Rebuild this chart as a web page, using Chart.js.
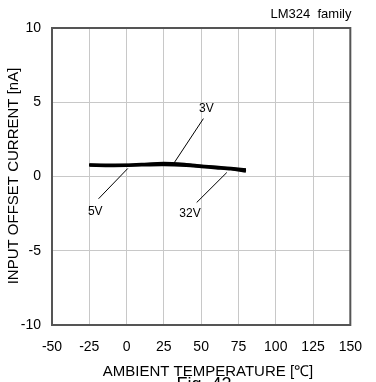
<!DOCTYPE html>
<html><head><meta charset="utf-8">
<script src="https://cdn.jsdelivr.net/npm/chart.js@4/dist/chart.umd.min.js"></script>
<style>html,body{margin:0;padding:0;background:#fff}canvas{display:block}</style>
</head><body>
<canvas id="c" width="376" height="382"></canvas>
<script>
const temps = [-25, -10, 0, 10, 25, 40, 50, 60, 70, 80];
const i3V  = [0.80, 0.78, 0.78, 0.83, 0.90, 0.82, 0.72, 0.64, 0.56, 0.46];
const i5V  = [0.78, 0.75, 0.76, 0.80, 0.84, 0.78, 0.69, 0.61, 0.53, 0.42];
const i32V = [0.75, 0.72, 0.73, 0.76, 0.78, 0.73, 0.65, 0.57, 0.49, 0.34];
const xTicks = [-50, -25, 0, 25, 50, 75, 100, 125, 150];
const yTicks = [-10, -5, 0, 5, 10];
const xTitle = 'AMBIENT TEMPERATURE [℃]';
const yTitle = 'INPUT OFFSET CURRENT [nA]';
const leaders = [
  {label: '3V',  from: [31.5, 0.86], to: [51.5, 3.9], text: [53.5, 4.6]},
  {label: '5V',  from: [0.8, 0.54],  to: [-18.8, -1.5], text: [-21, -2.4]},
  {label: '32V', from: [67.2, 0.27], to: [47, -1.75], text: [42.5, -2.5]}
];
const toPts = (xs, ys) => xs.map((x, i) => ({x, y: ys[i]}));
const curve = (d) => ({data: toPts(temps, d), borderColor: '#000', borderWidth: 2.8, pointRadius: 0, showLine: true, tension: 0.3, fill: false});
const leaderSets = leaders.map(l => ({data: [{x: l.from[0], y: l.from[1]}, {x: l.to[0], y: l.to[1]}], borderColor: '#000', borderWidth: 1, pointRadius: 0, showLine: true, fill: false}));
const FONT = 'Liberation Sans, Arial, sans-serif';
const textPlugin = {
  id: 'texts',
  afterDraw(chart) {
    const {ctx, chartArea: a, scales: {x, y}} = chart;
    ctx.save();
    ctx.strokeStyle = '#555'; ctx.lineWidth = 2;
    ctx.strokeRect(a.left, a.top, a.right - a.left, a.bottom - a.top);
    ctx.fillStyle = '#000';
    ctx.font = '12px ' + FONT;
    ctx.textAlign = 'center'; ctx.textBaseline = 'middle';
    leaders.forEach(l => ctx.fillText(l.label, x.getPixelForValue(l.text[0]), y.getPixelForValue(l.text[1])));
    ctx.font = '13px ' + FONT;
    ctx.fillText('LM324  family', 311, 14);
    ctx.font = '15px ' + FONT;
    ctx.fillText(xTitle, 208, 372);
    ctx.save();
    ctx.translate(14, 176);
    ctx.rotate(-Math.PI / 2);
    ctx.fillText(yTitle, 0, 0);
    ctx.restore();
    ctx.font = '18px ' + FONT;
    ctx.fillText('Fig. 42', 204, 385);
    ctx.restore();
  }
};
new Chart(document.getElementById('c'), {
  type: 'scatter',
  data: {datasets: [curve(i3V), curve(i5V), curve(i32V), ...leaderSets]},
  options: {
    responsive: false, animation: false,
    layout: {padding: {top: 28, right: 17, left: 0, bottom: 0}},
    plugins: {legend: {display: false}, tooltip: {enabled: false}},
    scales: {
      x: {
        type: 'linear', min: -50, max: 150,
        afterBuildTicks: s => { s.ticks = xTicks.map(v => ({value: v})); },
        afterFit: s => { s.height = 57; },
        grid: {color: '#c8c8c8', drawTicks: false, lineWidth: 1},
        border: {display: false},
        ticks: {color: '#000', font: {family: FONT, size: 14}, padding: 14, maxRotation: 0}
      },
      y: {
        type: 'linear', min: -10, max: 10,
        afterBuildTicks: s => { s.ticks = yTicks.map(v => ({value: v})); },
        afterFit: s => { s.width = 52; },
        grid: {color: '#c8c8c8', drawTicks: false, lineWidth: 1},
        border: {display: false},
        ticks: {color: '#000', font: {family: FONT, size: 14}, padding: 11}
      }
    }
  },
  plugins: [textPlugin]
});
</script>
</body></html>
